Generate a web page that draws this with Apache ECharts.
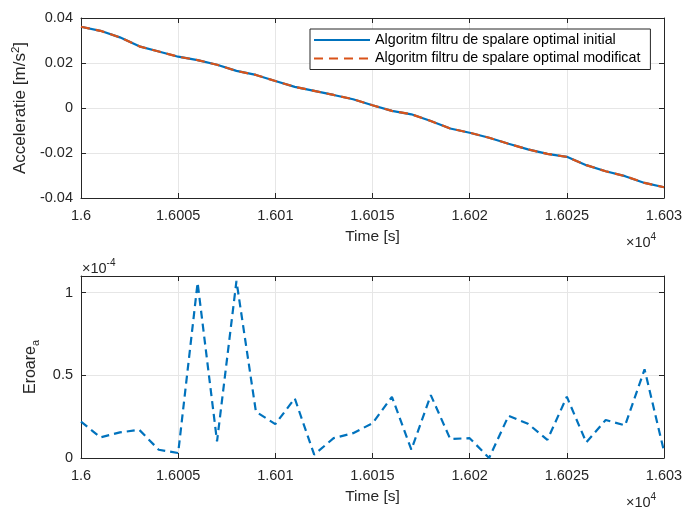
<!DOCTYPE html>
<html>
<head>
<meta charset="utf-8">
<script src="https://cdn.jsdelivr.net/npm/echarts@6/dist/echarts.min.js"></script>
<style>html,body{margin:0;padding:0;background:#fff;}#c{width:686px;height:510px;}</style>
</head>
<body>
<div id="c"></div>
<script>
// Time samples [s]
const timeS = [16000, 16001, 16002, 16003, 16004, 16005, 16006, 16007, 16008, 16009, 16010,
  16011, 16012, 16013, 16014, 16015, 16016, 16017, 16018, 16019, 16020,
  16021, 16022, 16023, 16024, 16025, 16026, 16027, 16028, 16029, 16030];
// Acceleration [m/s^2], initial optimal washout filter
const accInitial = [0.0361, 0.0343, 0.0314, 0.0274, 0.0251, 0.0228, 0.0213, 0.0192, 0.0165, 0.0147, 0.0120,
  0.0094, 0.0076, 0.0058, 0.0039, 0.0012, -0.0013, -0.0028, -0.0058, -0.0091, -0.0110,
  -0.0132, -0.0159, -0.0184, -0.0204, -0.0217, -0.0254, -0.0281, -0.0303, -0.0333, -0.0352];
// Acceleration [m/s^2], modified optimal washout filter
const accModified = [0.0361, 0.0343, 0.0314, 0.0274, 0.0251, 0.0228, 0.0213, 0.0192, 0.0165, 0.0147, 0.0120,
  0.0094, 0.0076, 0.0058, 0.0039, 0.0012, -0.0013, -0.0028, -0.0058, -0.0091, -0.0110,
  -0.0132, -0.0159, -0.0184, -0.0204, -0.0217, -0.0254, -0.0281, -0.0303, -0.0333, -0.0352];
// Error, in units of 1e-4
const errScaled = [0.22, 0.125, 0.155, 0.17, 0.05, 0.03, 1.06, 0.10, 1.07, 0.28, 0.205,
  0.36, 0.02, 0.12, 0.15, 0.21, 0.37, 0.05, 0.38, 0.115, 0.12,
  0.0, 0.255, 0.207, 0.11, 0.37, 0.094, 0.23, 0.197, 0.536, 0.04];
const seriesNames = ['Algoritm filtru de spalare optimal initial', 'Algoritm filtru de spalare optimal modificat'];

const FONT = '"Liberation Sans", Arial, Helvetica, sans-serif';
const AX = '#262626';
const GRIDC = '#e6e6e6';
const FS = 14.5;

function xAxisDef(gi, pos, labels) {
  return {
    type: 'value', gridIndex: gi, position: pos, min: 16000, max: 16030, interval: 5,
    axisLine: {show: true, onZero: false, lineStyle: {color: AX, width: 1}},
    axisTick: {show: true, inside: true, length: 5, lineStyle: {color: AX}},
    axisLabel: {show: labels, color: AX, fontFamily: FONT, fontSize: FS, margin: 10,
      formatter: v => String(parseFloat((v / 10000).toFixed(4)))},
    splitLine: {show: labels, lineStyle: {color: GRIDC, width: 1}},
    name: labels ? 'Time [s]' : '', nameLocation: 'middle', nameGap: 31,
    nameTextStyle: {color: AX, fontFamily: FONT, fontSize: 15.5}
  };
}
function yAxisDef(gi, pos, labels, min, max, interval, name, nameGap, nfs, fmt) {
  return {
    type: 'value', gridIndex: gi, position: pos, min: min, max: max, interval: interval,
    axisLine: {show: true, onZero: false, lineStyle: {color: AX, width: 1}},
    axisTick: {show: true, inside: true, length: 5, lineStyle: {color: AX}},
    axisLabel: {show: labels, color: AX, fontFamily: FONT, fontSize: FS, margin: 8, formatter: fmt},
    splitLine: {show: labels, lineStyle: {color: GRIDC, width: 1}},
    name: labels ? name : '', nameLocation: 'middle', nameGap: nameGap, nameRotate: 90,
    nameTextStyle: {color: AX, fontFamily: FONT, fontSize: nfs,
      rich: {
        b: {fontFamily: FONT, fontSize: nfs, color: AX, lineHeight: 22, verticalAlign: 'middle'},
        sup: {fontFamily: FONT, fontSize: nfs * 0.68, color: AX, lineHeight: 22, verticalAlign: 'top'},
        sub: {fontFamily: FONT, fontSize: nfs * 0.68, color: AX, lineHeight: 22, verticalAlign: 'bottom'}
      }}
  };
}
const topFmt = v => (Math.abs(v) < 1e-9 ? '0' : String(parseFloat(v.toFixed(2))));
const botFmt = v => (Math.abs(v * 2 - Math.round(v * 2)) > 1e-6 ? '' : String(parseFloat(v.toFixed(1))));

function mult(text, left, top) {
  return {type: 'text', left: left, top: top, z: 10, style: {text: text, fill: AX,
    rich: {a: {fontFamily: FONT, fontSize: 14.5, fill: AX, lineHeight: 18, verticalAlign: 'bottom'},
           s: {fontFamily: FONT, fontSize: 10, fill: AX, lineHeight: 18, verticalAlign: 'top'}}}};
}

const chart = echarts.init(document.getElementById('c'), null, {renderer: 'canvas'});
chart.setOption({
  backgroundColor: '#ffffff',
  animation: false,
  textStyle: {fontFamily: FONT},
  grid: [
    {left: 81, top: 18, width: 583, height: 180},
    {left: 81, top: 276, width: 583, height: 182}
  ],
  xAxis: [xAxisDef(0, 'bottom', true), xAxisDef(0, 'top', false), xAxisDef(1, 'bottom', true), xAxisDef(1, 'top', false)],
  yAxis: [
    yAxisDef(0, 'left', true, -0.04, 0.04, 0.02, '{b|Acceleratie [m/s}{sup|2}{b|]}', 47, 17, topFmt),
    yAxisDef(0, 'right', false, -0.04, 0.04, 0.02, '', 0, 17, topFmt),
    yAxisDef(1, 'left', true, 0, 1.1, 0.5, '{b|Eroare}{sub|a}', 35, 16, botFmt),
    yAxisDef(1, 'right', false, 0, 1.1, 0.5, '', 0, 16, botFmt)
  ],
  legend: {
    left: 310, top: 29, orient: 'vertical',
    backgroundColor: '#ffffff', borderColor: AX, borderWidth: 1,
    padding: [4, 10, 4, 3], itemWidth: 56, itemHeight: 15, itemGap: 4.5,
    itemStyle: {opacity: 0},
    textStyle: {color: '#000', fontFamily: FONT, fontSize: 14.3},
    data: seriesNames
  },
  series: [
    {name: seriesNames[0], type: 'line', xAxisIndex: 0, yAxisIndex: 0, symbol: 'none',
      lineStyle: {color: '#0072BD', width: 2.2, type: 'solid'}, itemStyle: {color: '#0072BD'},
      data: timeS.map((t, i) => [t, accInitial[i]]), z: 3},
    {name: seriesNames[1], type: 'line', xAxisIndex: 0, yAxisIndex: 0, symbol: 'none',
      lineStyle: {color: '#D95319', width: 2.2, type: [9, 6]}, itemStyle: {color: '#D95319'},
      data: timeS.map((t, i) => [t, accModified[i]]), z: 4},
    {name: 'err', type: 'line', xAxisIndex: 2, yAxisIndex: 2, symbol: 'none',
      lineStyle: {color: '#0072BD', width: 2.2, type: [8, 5]}, itemStyle: {color: '#0072BD'},
      data: timeS.map((t, i) => [t, errScaled[i]]), z: 3}
  ],
  graphic: [
    mult('{a|×10}{s|4}', 626, 232),
    mult('{a|×10}{s|4}', 626, 492),
    mult('{a|×10}{s|-4}', 82, 258)
  ]
});
</script>
</body>
</html>
